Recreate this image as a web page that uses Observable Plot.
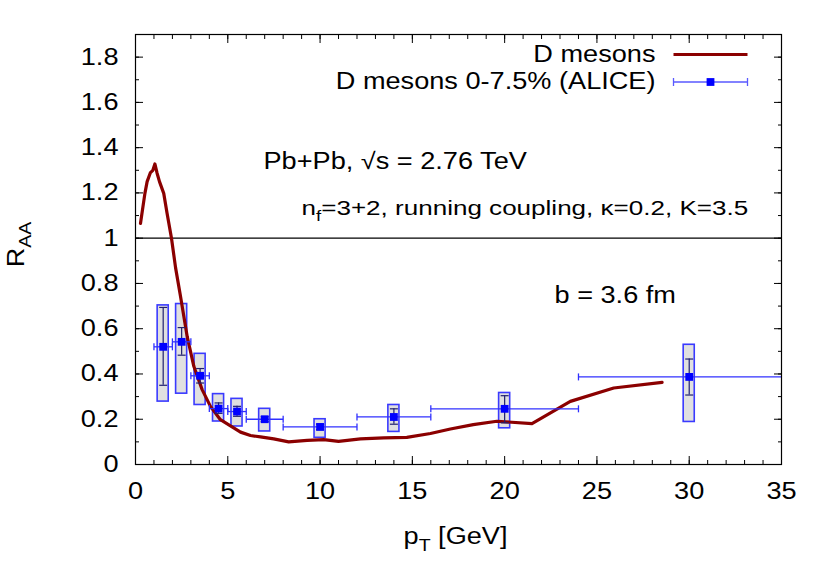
<!DOCTYPE html>
<html><head><meta charset="utf-8">
<script src="https://cdn.jsdelivr.net/npm/d3@7"></script>
<script src="https://cdn.jsdelivr.net/npm/@observablehq/plot@0.6"></script>
<style>
body{margin:0;background:#fff;}
svg{font-family:"Liberation Sans",Arial,Helvetica,sans-serif;}
</style>
</head><body><div id="chart"></div>
<script>
// Model curve: D mesons
const modelPt  = [0.27,0.51,0.63,0.81,0.94,1.05,1.17,1.3,1.53,1.71,1.95,2.17,2.44,2.8,3.16,3.61,4.06,4.6,5.32,5.69,6.23,6.77,7.49,8.3,9.3,10.2,11.0,12.19,13.45,14.7,15.98,17.06,18.3,19.58,21.48,23.56,25.91,28.53];
const modelRaa = [1.065,1.198,1.25,1.29,1.30,1.328,1.287,1.25,1.198,1.11,1.0,0.87,0.742,0.566,0.434,0.331,0.257,0.198,0.162,0.143,0.128,0.122,0.113,0.1,0.107,0.11,0.102,0.113,0.118,0.12,0.137,0.157,0.176,0.191,0.181,0.279,0.338,0.363];

// ALICE D mesons 0-7.5%
const alicePt  = [1.5,2.5,3.5,4.5,5.5,7,10,14,20,30];
const aliceBinLo = [1,2,3,4,5,6,8,12,16,24];
const aliceBinHi = [2,3,4,5,6,8,12,16,24,36];
const aliceRaa = [0.52,0.542,0.392,0.247,0.234,0.2,0.166,0.21,0.246,0.387];
const statLo = [0.35,0.483,0.36,0.226,0.213,0.189,0.154,0.178,0.184,0.307];
const statHi = [0.694,0.605,0.424,0.272,0.257,0.211,0.178,0.246,0.304,0.466];
const sysLo  = [0.278,0.313,0.263,0.19,0.168,0.146,0.118,0.144,0.16,0.188];
const sysHi  = [0.703,0.709,0.489,0.311,0.29,0.246,0.2,0.263,0.316,0.529];

const xTicks = [0,5,10,15,20,25,30,35];
const yTicks = [0,0.2,0.4,0.6,0.8,1,1.2,1.4,1.6,1.8];
const xMinor = d3.range(0,36,1);
const yMinor = d3.range(0,19,1).map(i => i/10);

const legendLabels = ["D mesons","D mesons 0-7.5% (ALICE)"];
const annotations = ["Pb+Pb, √s = 2.76 TeV","n_{f}=3+2, running coupling, κ=0.2, K=3.5","b = 3.6 fm"];

const model = modelPt.map((x,i)=>({x, y:modelRaa[i]}));
const alice = alicePt.map((x,i)=>({x, y:aliceRaa[i], lo:aliceBinLo[i], hi:aliceBinHi[i], sLo:statLo[i], sHi:statHi[i], yLo:sysLo[i], yHi:sysHi[i]}));
const xCaps = alice.flatMap(d=>[{x:d.lo,y:d.y},{x:d.hi,y:d.y}]).filter(c=>c.x<=35);

const RED = "#8b0000", BLUE="#0000ff", EBLUE="#3030ff", STAT="#202070";
const capV = {draw(c){c.moveTo(0,-3.5);c.lineTo(0,3.5);}};
const capH = {draw(c){c.moveTo(-4,0);c.lineTo(4,0);}};
const legLine = {draw(c){c.moveTo(-37,0);c.lineTo(37,0);}};
const legErr = {draw(c){c.moveTo(-37,0);c.lineTo(37,0);c.moveTo(-37,-4);c.lineTo(-37,4);c.moveTo(37,-4);c.lineTo(37,4);}};
const FS = 23;

const chart = Plot.plot({
  width:830, height:581,
  marginLeft:135, marginRight:49, marginTop:34, marginBottom:117,
  style:{fontFamily:'"Liberation Sans",Arial,sans-serif', fontSize:FS+"px", background:"white", color:"black"},
  x:{domain:[0,35], clamp:true, label:null},
  y:{domain:[0,1.9], label:null},
  marks:[
    Plot.ruleY([1],{stroke:"black",strokeWidth:1.2}),
    Plot.rect(alice,{x1:d=>d.x-0.3, x2:d=>d.x+0.3, y1:"yLo", y2:"yHi", fill:"#e0e0e0", stroke:"#3a3aff", strokeWidth:1.6}),
    Plot.line(model,{x:"x",y:"y",stroke:RED,strokeWidth:3.2}),
    Plot.link(alice,{x1:"lo",x2:"hi",y1:"y",y2:"y",stroke:EBLUE,strokeWidth:1.3}),
    Plot.dot(xCaps,{x:"x",y:"y",symbol:capV,fill:"none",stroke:EBLUE,strokeWidth:1.3}),
    Plot.ruleX(alice,{x:"x",y1:"sLo",y2:"sHi",stroke:STAT,strokeWidth:1.2}),
    Plot.dot(alice,{x:"x",y:"sLo",symbol:capH,fill:"none",stroke:STAT,strokeWidth:1.2}),
    Plot.dot(alice,{x:"x",y:"sHi",symbol:capH,fill:"none",stroke:STAT,strokeWidth:1.2}),
    Plot.dot(alice,{x:"x",y:"y",symbol:"square",r:4.4,fill:BLUE,stroke:"none"}),
    Plot.frame({stroke:"black",strokeWidth:1.2}),
    // tick labels
    Plot.axisX(xTicks,{anchor:"bottom",tickSize:0,tickPadding:18,fontSize:FS,label:null,tickFormat:d=>String(d)}),
    Plot.axisY(yTicks,{anchor:"left",tickSize:0,tickPadding:17,fontSize:FS,label:null,tickFormat:d=>String(d)}),
    // inward ticks on all four sides
    Plot.axisX(xTicks,{anchor:"bottom",tickSize:-8,tickFormat:()=>"",label:null}),
    Plot.axisX(xMinor,{anchor:"bottom",tickSize:-4,tickFormat:()=>"",label:null}),
    Plot.axisX(xTicks,{anchor:"top",tickSize:-8,tickFormat:()=>"",label:null}),
    Plot.axisX(xMinor,{anchor:"top",tickSize:-4,tickFormat:()=>"",label:null}),
    Plot.axisY(yTicks,{anchor:"left",tickSize:-8,tickFormat:()=>"",label:null}),
    Plot.axisY(yMinor,{anchor:"left",tickSize:-4,tickFormat:()=>"",label:null}),
    Plot.axisY(yTicks,{anchor:"right",tickSize:-8,tickFormat:()=>"",label:null}),
    Plot.axisY(yMinor,{anchor:"right",tickSize:-4,tickFormat:()=>"",label:null}),
    // axis titles
    Plot.text(["R_{AA}"],{text:d=>d,frameAnchor:"left",dx:-119,dy:-5,rotate:-90,textAnchor:"middle",lineAnchor:"middle",fontSize:FS}),
    Plot.text(["p_{T} [GeV]"],{text:d=>d,frameAnchor:"bottom",dx:-3,dy:72,textAnchor:"middle",lineAnchor:"middle",fontSize:FS}),
    // annotations
    Plot.text([annotations[0]],{text:d=>d,frameAnchor:"top-left",dx:128,dy:127,textAnchor:"start",lineAnchor:"middle",fontSize:FS}),
    Plot.text([annotations[1]],{text:d=>d,frameAnchor:"top-left",dx:166,dy:174,textAnchor:"start",lineAnchor:"middle",fontSize:20.5}),
    Plot.text([annotations[2]],{text:d=>d,frameAnchor:"top-left",dx:419,dy:261,textAnchor:"start",lineAnchor:"middle",fontSize:FS}),
    // legend
    Plot.text([legendLabels[0]],{text:d=>d,frameAnchor:"top-right",dx:-126,dy:20,textAnchor:"end",lineAnchor:"middle",fontSize:FS}),
    Plot.text([legendLabels[1]],{text:d=>d,frameAnchor:"top-right",dx:-126,dy:47,textAnchor:"end",lineAnchor:"middle",fontSize:FS}),
    Plot.dot([legendLabels[0]],{frameAnchor:"top-right",dx:-71,dy:20,symbol:legLine,fill:"none",stroke:RED,strokeWidth:3.2}),
    Plot.dot([legendLabels[1]],{frameAnchor:"top-right",dx:-71,dy:47.5,symbol:legErr,fill:"none",stroke:"#5a5aff",strokeWidth:1.3}),
    Plot.dot([legendLabels[1]],{frameAnchor:"top-right",dx:-71,dy:47.5,symbol:"square",r:4.4,fill:BLUE,stroke:"none"})
  ]
});
document.getElementById("chart").appendChild(chart);

// subscripts and horizontal stretch of text to match the reference font proportions
chart.querySelectorAll("text").forEach(t=>{
  const s = t.textContent;
  if (!s) return;
  const stretch = s.includes("running") ? 1.27 : 1.18;
  const fs = parseFloat(getComputedStyle(t).fontSize) || FS;
  if (s.includes("_{")) {
    const parts = s.split(/(_\{[^}]*\})/).filter(p=>p.length);
    while (t.firstChild) t.removeChild(t.firstChild);
    let shifted = false;
    parts.forEach(p=>{
      const ts = document.createElementNS("http://www.w3.org/2000/svg","tspan");
      if (p.startsWith("_{")) {
        ts.textContent = p.slice(2,-1);
        ts.setAttribute("font-size", (fs*0.72)+"px");
        ts.setAttribute("dy", (fs*0.3)+"px");
        shifted = true;
      } else {
        ts.textContent = p;
        if (shifted) { ts.setAttribute("dy", (-fs*0.3)+"px"); shifted = false; }
      }
      t.appendChild(ts);
    });
  }
  const len = t.getComputedTextLength();
  if (len > 0) {
    t.setAttribute("textLength", len*stretch);
    t.setAttribute("lengthAdjust","spacingAndGlyphs");
  }
});
</script>
</body></html>
